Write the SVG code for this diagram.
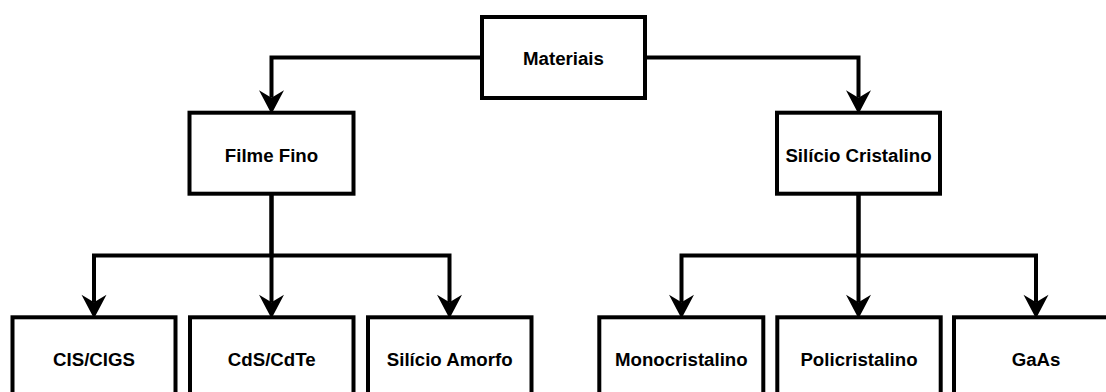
<svg xmlns="http://www.w3.org/2000/svg" width="1106" height="392" viewBox="0 0 1106 392">
<style>
.box{fill:#ffffff;stroke:#000000;stroke-width:4}
.lbl{font-family:"Liberation Sans",Arial,sans-serif;font-weight:bold;font-size:18.67px;fill:#000000;text-anchor:middle}
.edge{fill:none;stroke:#000000;stroke-width:4;stroke-linejoin:miter;stroke-linecap:butt}
</style>
<defs>
<marker id="arr" markerUnits="userSpaceOnUse" markerWidth="30" markerHeight="30" viewBox="-8 -12 24 24" refX="0" refY="0" orient="auto" overflow="visible">
<path d="M13,0 L-6,-10 L0,0 L-6,10 Z" fill="#000000" stroke="none"/>
</marker>
</defs>
<rect width="1106" height="392" fill="#ffffff"/>
<g id="connectors">
<path class="edge" d="M482,57.5 H271.5 V97.7" marker-end="url(#arr)"/>
<path class="edge" d="M645,57.5 H858.5 V97.7" marker-end="url(#arr)"/>
<path class="edge" d="M271.5,193.5 V255.5 H94 V302.3" marker-end="url(#arr)"/>
<path class="edge" d="M271.5,193.5 V302.3" marker-end="url(#arr)"/>
<path class="edge" d="M271.5,255.5 H449.5 V302.3" marker-end="url(#arr)"/>
<path class="edge" d="M858.5,193.5 V255.5 H681.5 V302.3" marker-end="url(#arr)"/>
<path class="edge" d="M858.5,193.5 V302.3" marker-end="url(#arr)"/>
<path class="edge" d="M858.5,255.5 H1036 V302.3" marker-end="url(#arr)"/>
</g>
<g id="node-materiais"><rect class="box" x="482" y="17" width="163" height="81"/><text class="lbl" x="563.5" y="65">Materiais</text></g>
<g id="node-filme-fino"><rect class="box" x="189.5" y="112.7" width="164" height="81"/><text class="lbl" x="271.5" y="161.5">Filme Fino</text></g>
<g id="node-silicio-cristalino"><rect class="box" x="777" y="112.7" width="163" height="81"/><text class="lbl" x="858.5" y="161.5">Silício Cristalino</text></g>
<g id="node-cis-cigs"><rect class="box" x="12.5" y="317.3" width="163" height="82"/><text class="lbl" x="94" y="366">CIS/CIGS</text></g>
<g id="node-cds-cdte"><rect class="box" x="190" y="317.3" width="163.5" height="82"/><text class="lbl" x="271.7" y="366">CdS/CdTe</text></g>
<g id="node-silicio-amorfo"><rect class="box" x="368" y="317.3" width="163.5" height="82"/><text class="lbl" x="449.7" y="366">Silício Amorfo</text></g>
<g id="node-monocristalino"><rect class="box" x="599.3" y="317.3" width="164" height="82"/><text class="lbl" x="681.3" y="366">Monocristalino</text></g>
<g id="node-policristalino"><rect class="box" x="777.3" y="317.3" width="163.4" height="82"/><text class="lbl" x="859" y="366">Policristalino</text></g>
<g id="node-gaas"><rect class="box" x="954" y="317.3" width="164" height="82"/><text class="lbl" x="1036" y="366">GaAs</text></g>
</svg>
